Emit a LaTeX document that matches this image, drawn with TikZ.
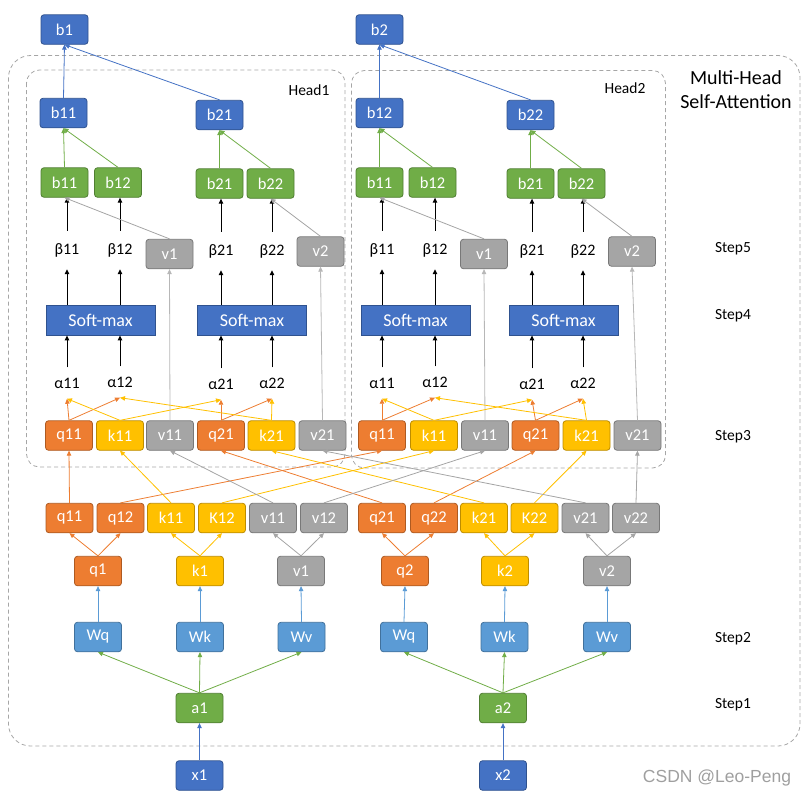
\documentclass[tikz,border=0pt]{standalone}
\usepackage{fontspec}
\setmainfont{Carlito}
\newfontfamily\wmfont{Liberation Sans}
\usetikzlibrary{arrows.meta}
\definecolor{dblue}{HTML}{4472C4}\definecolor{dblueb}{HTML}{2F528F}
\definecolor{lblue}{HTML}{5B9BD5}\definecolor{lblueb}{HTML}{41719C}
\definecolor{grn}{HTML}{70AD47}\definecolor{grnb}{HTML}{507E32}
\definecolor{org}{HTML}{ED7D31}\definecolor{orgb}{HTML}{AE5A21}
\definecolor{ylw}{HTML}{FFC000}\definecolor{ylwb}{HTML}{BC8C00}
\definecolor{gry}{HTML}{A5A5A5}\definecolor{gryb}{HTML}{787878}
\definecolor{dashgray}{HTML}{A6A6A6}
\begin{document}
\begin{tikzpicture}[x=1pt,y=-1pt,
 box/.style={rounded corners=3pt, minimum width=47pt, minimum height=29.5pt, inner sep=0pt, text=white, font=\fontsize{16.5}{16.5}\selectfont, line width=0.8pt},
 bbox/.style={box, fill=dblue, draw=dblueb},
 wbox/.style={box, fill=lblue, draw=lblueb},
 gbox/.style={box, fill=grn, draw=grnb},
 obox/.style={box, fill=org, draw=orgb},
 ybox/.style={box, fill=ylw, draw=ylwb},
 rbox/.style={box, fill=gry, draw=gryb},
 smbox/.style={box, rounded corners=0pt, fill=dblue, draw=dblueb, minimum width=109pt, minimum height=30pt, font=\fontsize{18}{18}\selectfont},
 alnode/.style={inner sep=0pt, minimum height=31pt, font=\fontsize{16}{16}\selectfont},
 benode/.style={inner sep=0pt, minimum height=38pt, font=\fontsize{16}{16}\selectfont},
 lbl/.style={inner sep=0pt, font=\fontsize{15.5}{15.5}\selectfont},
 dbox/.style={draw=dashgray, dash pattern=on 4pt off 3pt, line width=0.8pt},
 ar/.style={-{Triangle[length=5pt,width=4.5pt]}, line width=0.8pt},
 bar/.style={-{Triangle[length=5pt,width=4.5pt]}, line width=1pt, black},
]
\useasboundingbox (0,0) rectangle (811,798);
% dashed frames
\draw[dbox, rounded corners=22pt] (8.5,55.5) rectangle (800,746);
\draw[dbox, rounded corners=13pt] (26.5,70) rectangle (345,467);
\draw[dbox, rounded corners=13pt] (351.5,70.5) rectangle (665.5,468);
\node[lbl] (head1) at (309,90) {Head1};
\node[lbl] (head2) at (625,88) {Head2};
\node[inner sep=0pt, font=\fontsize{20}{20}\selectfont] (mh1) at (736,78) {Multi-Head};
\node[inner sep=0pt, font=\fontsize{20}{20}\selectfont] (mh2) at (736,102) {Self-Attention};
\node[lbl] (st5) at (733,249) {Step5};
\node[lbl] (st4) at (733,316) {Step4};
\node[lbl] (st3) at (733,437) {Step3};
\node[lbl] (st2) at (733,639) {Step2};
\node[lbl] (st1) at (733,705) {Step1};
\node[inner sep=0pt, text=gray!75, font=\wmfont\fontsize{17.5}{17.5}\selectfont] (wm) at (717,778) {CSDN @Leo-Peng};
% top outputs
\node[bbox] (b1) at (64.5,29.5) {b1};
\node[bbox] (b2) at (379.5,29.5) {b2};
\node[bbox] (B11) at (63.5,113) {b11};
\node[bbox] (B21) at (219.5,115) {b21};
\node[bbox] (B12) at (379.5,113) {b12};
\node[bbox] (B22) at (530.5,115) {b22};
% green
\node[gbox] (g1b11) at (64.5,182.5) {b11};
\node[gbox] (g1b12) at (118,182.5) {b12};
\node[gbox] (g1b21) at (219.5,183.5) {b21};
\node[gbox] (g1b22) at (270.5,183.5) {b22};
\node[gbox] (g2b11) at (379.5,182.5) {b11};
\node[gbox] (g2b12) at (432.5,182.5) {b12};
\node[gbox] (g2b21) at (530.5,183.5) {b21};
\node[gbox] (g2b22) at (581.5,183.5) {b22};
% beta
\node[benode] (be111) at (67,250) {β11};
\node[benode] (be112) at (120,250) {β12};
\node[benode] (be121) at (221,251) {β21};
\node[benode] (be122) at (272,251) {β22};
\node[benode] (be211) at (382,250) {β11};
\node[benode] (be212) at (435,250) {β12};
\node[benode] (be221) at (532,251) {β21};
\node[benode] (be222) at (583,251) {β22};
\node[rbox] (sv11) at (169.5,254) {v1};
\node[rbox] (sv12) at (320.5,251.5) {v2};
\node[rbox] (sv21) at (484,254) {v1};
\node[rbox] (sv22) at (632,251.5) {v2};
% softmax
\node[smbox] (sm11) at (100.5,320) {Soft-max};
\node[smbox] (sm12) at (252,320) {Soft-max};
\node[smbox] (sm21) at (415.5,320) {Soft-max};
\node[smbox] (sm22) at (563.5,320) {Soft-max};
% alpha
\node[alnode] (al111) at (67,383) {α11};
\node[alnode] (al112) at (120,382) {α12};
\node[alnode] (al121) at (221,384) {α21};
\node[alnode] (al122) at (272,383) {α22};
\node[alnode] (al211) at (382,383) {α11};
\node[alnode] (al212) at (435,382) {α12};
\node[alnode] (al221) at (532,384) {α21};
\node[alnode] (al222) at (583,383) {α22};
% step3 row
\node[obox] (s1q11) at (69,435.5) {q11};
\node[ybox] (s1k11) at (120,435.5) {k11};
\node[rbox] (s1v11) at (170,435.5) {v11};
\node[obox] (s1q21) at (221,435.5) {q21};
\node[ybox] (s1k21) at (271.5,435.5) {k21};
\node[rbox] (s1v21) at (322.5,435.5) {v21};
\node[obox] (s2q11) at (382,435.5) {q11};
\node[ybox] (s2k11) at (434,435.5) {k11};
\node[rbox] (s2v11) at (485,435.5) {v11};
\node[obox] (s2q21) at (535.5,435.5) {q21};
\node[ybox] (s2k21) at (586.5,435.5) {k21};
\node[rbox] (s2v21) at (637.5,435.5) {v21};
% split row
\node[obox] (rq11) at (69.5,518) {q11};
\node[obox] (rq12) at (120.5,518) {q12};
\node[ybox] (rk11) at (171,518) {k11};
\node[ybox] (rk12) at (222,518) {K12};
\node[rbox] (rv11) at (273,518) {v11};
\node[rbox] (rv12) at (324,518) {v12};
\node[obox] (rq21) at (382,518) {q21};
\node[obox] (rq22) at (434,518) {q22};
\node[ybox] (rk21) at (484,518) {k21};
\node[ybox] (rk22) at (534.5,518) {K22};
\node[rbox] (rv21) at (585.5,518) {v21};
\node[rbox] (rv22) at (636,518) {v22};
% q k v
\node[obox] (pq1) at (98,571) {q1};
\node[ybox] (pk1) at (200,571) {k1};
\node[rbox] (pv1) at (301,571) {v1};
\node[obox] (pq2) at (405,571) {q2};
\node[ybox] (pk2) at (505,571) {k2};
\node[rbox] (pv2) at (607,571) {v2};
% W
\node[wbox] (wq1) at (98,637) {Wq};
\node[wbox] (wk1) at (200,637) {Wk};
\node[wbox] (wv1) at (301.5,637) {Wv};
\node[wbox] (wq2) at (404,637) {Wq};
\node[wbox] (wk2) at (504.5,637) {Wk};
\node[wbox] (wv2) at (607,637) {Wv};
% a, x
\node[gbox] (a1) at (199.5,708) {a1};
\node[gbox] (a2) at (503,708) {a2};
\node[bbox] (x1) at (199.5,775.5) {x1};
\node[bbox] (x2) at (503,775.5) {x2};
% ---- connectors ----
\draw[ar,dblue] (B11.north) -- (b1.south);
\draw[ar,dblue] (B21.north) -- (b1.south);
\draw[ar,dblue] (B12.north) -- (b2.south);
\draw[ar,dblue] (B22.north) -- (b2.south);
\foreach \g/\b in {g1b11/B11,g1b12/B11,g1b21/B21,g1b22/B21,g2b11/B12,g2b12/B12,g2b21/B22,g2b22/B22}
  \draw[ar,grn] (\g.north) -- (\b.south);
\foreach \be/\g in {be111/g1b11,be112/g1b12,be121/g1b21,be122/g1b22,be211/g2b11,be212/g2b12,be221/g2b21,be222/g2b22}
  \draw[bar] (\be.north) -- (\be.north |- \g.south);
\foreach \be/\s in {be111/sm11,be112/sm11,be121/sm12,be122/sm12,be211/sm21,be212/sm21,be221/sm22,be222/sm22}
  \draw[bar] (\be.south |- \s.north) -- (\be.south);
\foreach \al/\s in {al111/sm11,al112/sm11,al121/sm12,al122/sm12,al211/sm21,al212/sm21,al221/sm22,al222/sm22}
  \draw[bar] (\al.north) -- (\al.north |- \s.south);
\foreach \v/\g in {sv11/g1b11,sv12/g1b22,sv21/g2b11,sv22/g2b22}
  \draw[ar,gry] (\v.north) -- (\g.south);
\foreach \a/\b in {s1v11/sv11,s1v21/sv12,s2v11/sv21,s2v21/sv22}
  \draw[ar,gry!80] (\a.north) -- (\b.south);
\foreach \h in {1,2}{
  \draw[ar,org] (s\h q11.north) -- (al\h11.south);
  \draw[ar,org] (s\h q11.north) -- (al\h12.south);
  \draw[ar,org] (s\h q21.north) -- (al\h21.south);
  \draw[ar,org] (s\h q21.north) -- (al\h22.south);
  \draw[ar,ylw] (s\h k11.north) -- (al\h11.south);
  \draw[ar,ylw] (s\h k11.north) -- (al\h21.south);
  \draw[ar,ylw] (s\h k21.north) -- (al\h22.south);
  \draw[ar,ylw] (s\h k21.north) -- (al\h12.south);
}
\foreach \a/\b in {rq11/s1q11,rq12/s2q11,rq21/s1q21,rq22/s2q21}
  \draw[ar,org] (\a.north) -- (\b.south);
\foreach \a/\b in {rk11/s1k11,rk12/s2k11,rk21/s1k21,rk22/s2k21}
  \draw[ar,ylw] (\a.north) -- (\b.south);
\foreach \a/\b in {rv11/s1v11,rv12/s2v11,rv21/s1v21,rv22/s2v21}
  \draw[ar,gry] (\a.north) -- (\b.south);
\foreach \p/\a/\b/\c in {pq1/rq11/rq12/org,pk1/rk11/rk12/ylw,pv1/rv11/rv12/gry,pq2/rq21/rq22/org,pk2/rk21/rk22/ylw,pv2/rv21/rv22/gry}{
  \draw[ar,\c] (\p.north) -- (\a.south);
  \draw[ar,\c] (\p.north) -- (\b.south);
}
\foreach \w/\p in {wq1/pq1,wk1/pk1,wv1/pv1,wq2/pq2,wk2/pk2,wv2/pv2}
  \draw[ar,lblue] (\w.north) -- (\p.south);
\foreach \w in {wq1,wk1,wv1}
  \draw[ar,grn] (a1.north) -- (\w.south);
\foreach \w in {wq2,wk2,wv2}
  \draw[ar,grn] (a2.north) -- (\w.south);
\draw[ar,dblue] (x1.north) -- (a1.south);
\draw[ar,dblue] (x2.north) -- (a2.south);
\end{tikzpicture}
\end{document}
